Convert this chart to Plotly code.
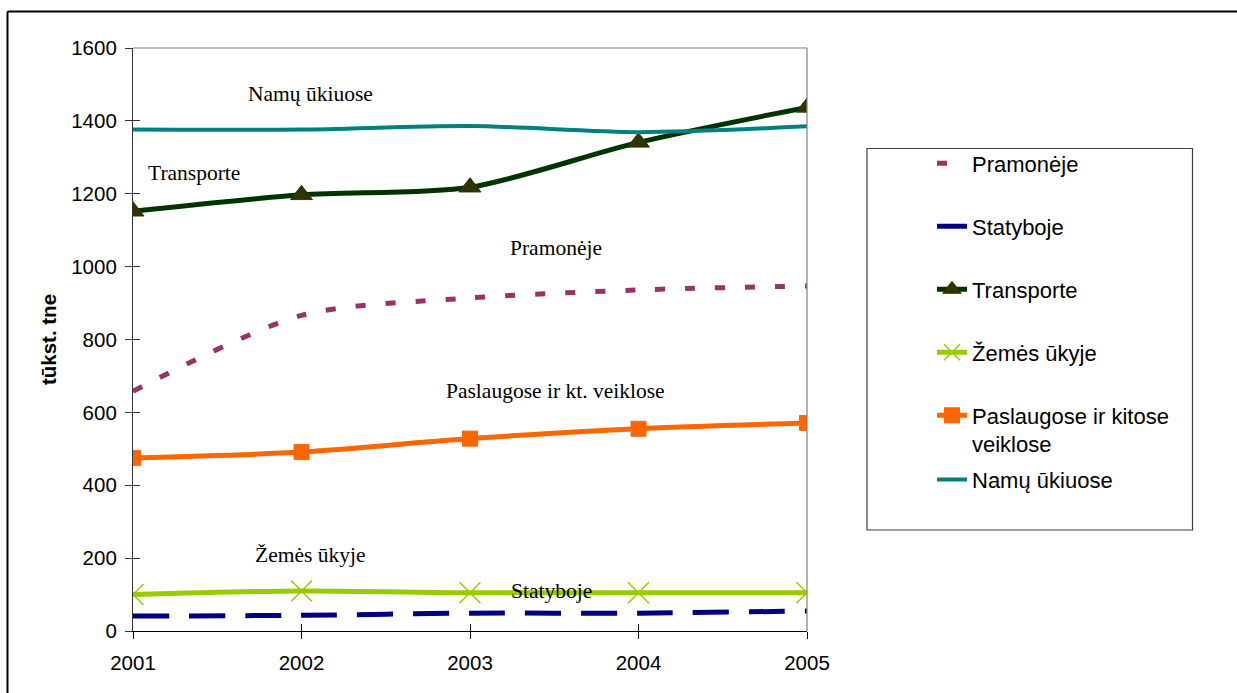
import plotly.graph_objects as go

# Energy consumption by sector, thousand toe
years = [2001, 2002, 2003, 2004, 2005]
pramoneje = [658, 866, 914, 936, 947]
statyboje = [41, 43, 49, 49, 55]
transporte = [1152, 1197, 1218, 1341, 1437]
zemes_ukyje = [100, 110, 105, 105, 105]
paslaugose = [475, 491, 528, 555, 571]
namu_ukiuose = [1376, 1376, 1386, 1369, 1385]

series_names = [
    "Pramonėje",
    "Statyboje",
    "Transporte",
    "Žemės ūkyje",
    "Paslaugose ir kitose<br>veiklose",
    "Namų ūkiuose",
]
series_values = [pramoneje, statyboje, transporte, zemes_ukyje, paslaugose, namu_ukiuose]

inline_labels = [
    "Namų ūkiuose",
    "Transporte",
    "Pramonėje",
    "Paslaugose ir kt. veiklose",
    "Žemės ūkyje",
    "Statyboje",
]
y_ticks = [0, 200, 400, 600, 800, 1000, 1200, 1400, 1600]

# figure geometry (pixels)
W, H = 1237, 693
ML, MR, MT, MB = 133, 430, 48, 62
PW, PH = W - ML - MR, H - MT - MB


def px_x(x):
    return (x - ML) / PW


def px_y(y):
    return (H - MB - y) / PH


styles = [
    dict(line=dict(color="#993366", width=5, dash="10px,20px"), mode="lines"),
    dict(line=dict(color="#000080", width=5, dash="36px,20px"), mode="lines"),
    dict(line=dict(color="#003300", width=5), mode="lines+markers",
         marker=dict(symbol="triangle-up", size=19, color="#333300",
                     line=dict(color="#333300", width=1))),
    dict(line=dict(color="#99CC00", width=5), mode="lines+markers",
         marker=dict(symbol="x-thin-open", size=21, color="#99CC00",
                     line=dict(color="#99CC00", width=1.5))),
    dict(line=dict(color="#FF6600", width=5), mode="lines+markers",
         marker=dict(symbol="square", size=15, color="#FF6600",
                     line=dict(color="#FF6600", width=1))),
    dict(line=dict(color="#008080", width=4), mode="lines"),
]

fig = go.Figure()
for i, (name, vals, st) in enumerate(zip(series_names, series_values, styles)):
    line = dict(st["line"], shape="spline", smoothing=0.8)
    kw = dict(x=years, y=vals, name=name, mode=st["mode"], line=line,
              legendgroup=f"g{i}", hoverinfo="x+y+name")
    if "marker" in st:
        kw["marker"] = st["marker"]
    if i == 5:
        kw["legend"] = "legend2"
    fig.add_trace(go.Scatter(**kw))

# companion axes carrying the inner half of the cross tick marks
fig.add_trace(go.Scatter(x=[], y=[], xaxis="x2", yaxis="y2", showlegend=False,
                         hoverinfo="skip"))

font_sans = "Liberation Sans, Arial, sans-serif"
font_serif = "Liberation Serif, Times New Roman, serif"

# inline series labels (pixel centres)
label_pos = [(310, 94), (194, 173), (556, 248), (555, 391), (310, 555), (551, 591)]
annotations = []
for text, (lx, ly) in zip(inline_labels, label_pos):
    annotations.append(dict(
        text=text, x=px_x(lx), y=px_y(ly), xref="paper", yref="paper",
        xanchor="center", yanchor="middle", showarrow=False,
        font=dict(family=font_serif, size=21.5, color="#000000"),
    ))

shapes = [
    # plot area top and right edges
    dict(type="line", xref="paper", yref="paper", x0=0, x1=1, y0=1, y1=1,
         line=dict(color="#808080", width=1.2)),
    dict(type="line", xref="paper", yref="paper", x0=1, x1=1, y0=0, y1=1,
         line=dict(color="#808080", width=1.2)),
    # outer chart frame
    dict(type="line", xref="paper", yref="paper", x0=px_x(7.5), x1=px_x(W + 5),
         y0=px_y(11.5), y1=px_y(11.5), line=dict(color="#000000", width=2)),
    dict(type="line", xref="paper", yref="paper", x0=px_x(7.5), x1=px_x(7.5),
         y0=px_y(11.5), y1=px_y(H + 5), line=dict(color="#000000", width=2)),
    # legend frame
    dict(type="rect", xref="paper", yref="paper", x0=px_x(867), x1=px_x(1192.5),
         y0=px_y(148.5), y1=px_y(530), line=dict(color="#404040", width=1.2)),
]

fig.update_layout(
    width=W, height=H,
    margin=dict(l=ML, r=MR, t=MT, b=MB, pad=0),
    paper_bgcolor="#ffffff", plot_bgcolor="#ffffff",
    font=dict(family=font_sans, size=20.5, color="#000000"),
    showlegend=True,
    legend=dict(
        x=px_x(932), y=px_y(142.5), xanchor="left", yanchor="top",
        bgcolor="rgba(0,0,0,0)", borderwidth=0, tracegroupgap=31.4,
        font=dict(family=font_sans, size=22, color="#000000"),
        valign="top", traceorder="grouped",
    ),
    legend2=dict(
        x=px_x(932), y=px_y(458.7), xanchor="left", yanchor="top",
        bgcolor="rgba(0,0,0,0)", borderwidth=0,
        font=dict(family=font_sans, size=22, color="#000000"),
    ),
    xaxis=dict(
        range=[years[0], years[-1]], tickvals=years, ticktext=[str(y) for y in years],
        showgrid=False, zeroline=False, showline=True, linecolor="#000000", linewidth=1.2,
        ticks="outside", ticklen=7, tickcolor="#000000", tickwidth=1.2,
        ticklabelstandoff=6, tickfont=dict(family=font_sans, size=20.5),
    ),
    yaxis=dict(
        range=[0, 1600], tickvals=y_ticks, showgrid=False, zeroline=False,
        showline=True, linecolor="#333333", linewidth=1.2,
        ticks="outside", ticklen=7, tickcolor="#333333", tickwidth=1.2,
        ticklabelstandoff=4, tickfont=dict(family=font_sans, size=20.5),
        title=dict(text="<b>tūkst. tne</b>", standoff=9,
                   font=dict(family=font_sans, size=20.5)),
    ),
    xaxis2=dict(
        overlaying="x", anchor="y2", range=[years[0], years[-1]], tickvals=years,
        showticklabels=False, showgrid=False, zeroline=False, showline=False,
        ticks="inside", ticklen=7, tickcolor="#000000", tickwidth=1.2,
    ),
    yaxis2=dict(
        overlaying="y", anchor="x2", range=[0, 1600], tickvals=y_ticks,
        showticklabels=False, showgrid=False, zeroline=False, showline=False,
        ticks="inside", ticklen=7, tickcolor="#333333", tickwidth=1.2,
    ),
    annotations=annotations,
    shapes=shapes,
)

fig.write_html("out.html")
